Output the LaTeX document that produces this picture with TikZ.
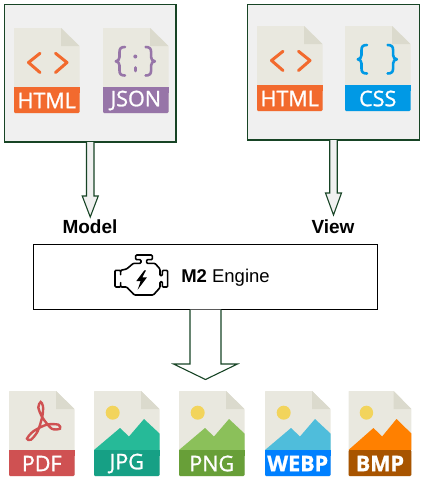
\documentclass[tikz,border=0pt]{standalone}
\usepackage{fontspec}
\setmainfont{Liberation Sans}
\newfontfamily\iconfont[FakeBold=1.2]{Open Sans}
\usetikzlibrary{calc}

\definecolor{box_line}{HTML}{174425}
\definecolor{box_fill}{HTML}{F0F0F0}
\definecolor{page_body}{HTML}{E9E8DF}
\definecolor{page_fold}{HTML}{DBDACD}
\definecolor{sun_yellow}{HTML}{F2D45C}
\definecolor{html_orange}{HTML}{F26A2E}
\definecolor{json_purple}{HTML}{9775A8}
\definecolor{css_blue}{HTML}{0099E5}
\definecolor{pdf_red}{HTML}{CF5152}
\definecolor{jpg_band}{HTML}{16A085}
\definecolor{jpg_hill}{HTML}{26BA98}
\definecolor{png_band}{HTML}{689F38}
\definecolor{png_hill}{HTML}{8BC05A}
\definecolor{webp_band}{HTML}{0080FF}
\definecolor{webp_hill}{HTML}{4FBDDB}
\definecolor{bmp_band}{HTML}{A85400}
\definecolor{bmp_hill}{HTML}{FF8000}

% page icon: name, position, xscale, band colour, label, glyph
\newcommand{\fileicon}[6]{
  \begin{scope}[shift={(#2)},xscale=#3]
    \fill[page_body,rounded corners=0.6pt] (0,0) -- (47,0) -- (65.5,18) -- (65.5,85) -- (0,85) -- cycle;
    \fill[page_fold] (47,0) -- (65.5,18) -- (47,18) -- cycle;
    #6
    \fill[#4,rounded corners=1.2pt] (0,59) -- (65.5,59) -- (65.5,85) -- (0,85) -- cycle;
    \fill[#4] (0,59) rectangle (65.5,65);
    \node[band_label] (#1) at (32.75,72.5) {#5};
  \end{scope}
}
% picture glyph of the image files
\newcommand{\hillglyph}[1]{
  \fill[sun_yellow] (18.7,21.7) circle (7);
  \fill[#1] (0,59) -- (26,37) -- (35,45.5) -- (50,28) -- (65.5,42.5) -- (65.5,59) -- cycle;
}
\newcommand{\braceglyph}[1]{
  \foreach \mirror/\off in {1/0,-1/64.6}{
    \draw[glyph_line=#1,shift={(\off,0)},xscale=\mirror]
      (22,19) .. controls (18,19) and (16.5,20.5) .. (16.5,24) -- (16.5,29)
      .. controls (16.5,31.5) and (15,33) .. (12.8,33.3)
      .. controls (15,33.6) and (16.5,35) .. (16.5,37.5) -- (16.5,42.5)
      .. controls (16.5,46) and (18,47.5) .. (22,47.5);
  }
}
\newcommand{\tagglyph}[1]{
  \draw[glyph_line=#1,line width=3pt] (26,25.3) -- (14.5,34.5) -- (26,44.5);
  \draw[glyph_line=#1,line width=3pt] (41.5,25.3) -- (53,34.5) -- (41.5,44.5);
}
% hollow arrow: from, to, half shaft, half head, head length
\newcommand{\blockarrow}[5]{
  \draw[block_arrow] let \p1=(#1), \p2=(#2) in
    (\x1-#3,\y1) -- (\x1-#3,\y2+#5) -- (\x1-#4,\y2+#5) -- (\x2,\y2)
    -- (\x1+#4,\y2+#5) -- (\x1+#3,\y2+#5) -- (\x1+#3,\y1);
}

\begin{document}
\begin{tikzpicture}[x=1pt,y=-1pt,
    source_box/.style ={rectangle, draw=box_line, fill=box_fill, line width=1.1pt,
      minimum width=171.5pt, outer sep=0pt},
    engine_box/.style ={rectangle, draw=black, fill=white, line width=1.1pt,
      minimum width=344pt, minimum height=65pt, outer sep=0pt},
    block_arrow/.style ={draw=box_line, fill=box_fill, line width=1.1pt, line join=miter},
    arrow_label/.style ={font=\fontsize{19}{20}\selectfont\bfseries, inner sep=0pt},
    band_label/.style ={font=\fontsize{21.5}{22}\selectfont\iconfont, text=white, inner sep=0pt},
    glyph_line/.style ={draw=#1, line width=2.6pt, line cap=round, line join=round}]
    \useasboundingbox (0,0) rectangle (425,480);
    % boxes
    \node [source_box, minimum height=137.5pt] (model_box) at (90.25,73.25) {};
    \node [source_box, minimum height=135.5pt] (view_box) at (333.5,72.25) {};
    \node [engine_box] (engine_box) at (205.5,277) {};
    % arrow ends
    \coordinate (model_tip) at (90.25,217);
    \coordinate (view_tip) at (333.5,215);
    \coordinate (engine_tip) at (205.5,379.5);
    \blockarrow{model_box.south}{model_tip}{3.75pt}{8pt}{21pt}
    \blockarrow{view_box.south}{view_tip}{3.75pt}{8pt}{22pt}
    \begin{scope}[block_arrow/.append style={fill=white}]
      \blockarrow{engine_box.south}{engine_tip}{15.5pt}{32pt}{15.5pt}
    \end{scope}
    \node [arrow_label] (model_label) at (90,226.5) {Model};
    \node [arrow_label] (view_label) at (333,226.5) {View};
    % engine text and icon
    \node [font=\fontsize{18.5}{20}\selectfont, inner sep=0pt] (engine_label) at (225.5,277.5) {\textbf{M2} Engine};
    \begin{scope}[shift={(105,245)},x=0.3333pt,y=-0.3333pt]
      \draw[line width=1.6pt, rounded corners=1pt, line join=round]
        (108,55) -- (108,44) -- (92,44) -- (92,30) -- (142,30) -- (142,44) -- (125,44) -- (125,55)
        -- (150,55) -- (165,72) -- (165,92) -- (172,92) -- (172,76) -- (188,76) -- (188,126)
        -- (172,126) -- (172,110) -- (165,110) -- (165,128) -- (145,150) -- (88,150) -- (65,126)
        -- (47,126) -- (47,110) -- (47,126) -- (30,126) -- (30,76) -- (47,76) -- (47,92)
        -- (47,76) -- (65,72) -- (85,55) -- cycle;
      \fill (118,76) -- (94,108) -- (107,108) -- (98,134) -- (126,97) -- (112,97) -- (123,76) -- cycle;
    \end{scope}
    % top row
    \fileicon{html_model}{14,28}{1}{html_orange}{HTML}{\tagglyph{html_orange}}
    \fileicon{json_model}{103,28}{1}{json_purple}{JSON}{
      \braceglyph{json_purple}
      \fill[json_purple] (32.3,28.5) circle (2);
      \draw[glyph_line=json_purple,line width=2.6pt] (32.3,39.5) -- (32.3,43);
    }
    \fileicon{html_view}{257,26}{1}{html_orange}{HTML}{\tagglyph{html_orange}}
    \fileicon{css_view}{345,26}{1}{css_blue}{CSS}{\braceglyph{css_blue}}
    % output row
    \fileicon{pdf_out}{9,391}{1}{pdf_red}{PDF}{
      \begin{scope}[shift={(-4,-3)},x=0.3333pt,y=-0.3333pt]
        \draw[pdf_red, line width=2.4pt] plot[smooth cycle] coordinates {(107,42) (100,58) (112,88) (140,122) (165,122) (160,110) (125,110) (85,130) (66,152) (78,155) (98,130) (112,85) (114,55)};
      \end{scope}
    }
    \fileicon{jpg_out}{94,391}{1}{jpg_band}{JPG}{\hillglyph{jpg_hill}}
    \fileicon{png_out}{179,391}{1}{png_band}{PNG}{\hillglyph{png_hill}}
    \fileicon{webp_out}{265,391}{1}{webp_band}{\textbf{WEBP}}{\hillglyph{webp_hill}}
    \fileicon{bmp_out}{348.5,391}{0.96}{bmp_band}{\textbf{BMP}}{\hillglyph{bmp_hill}}
  \end{tikzpicture}
\end{document}
